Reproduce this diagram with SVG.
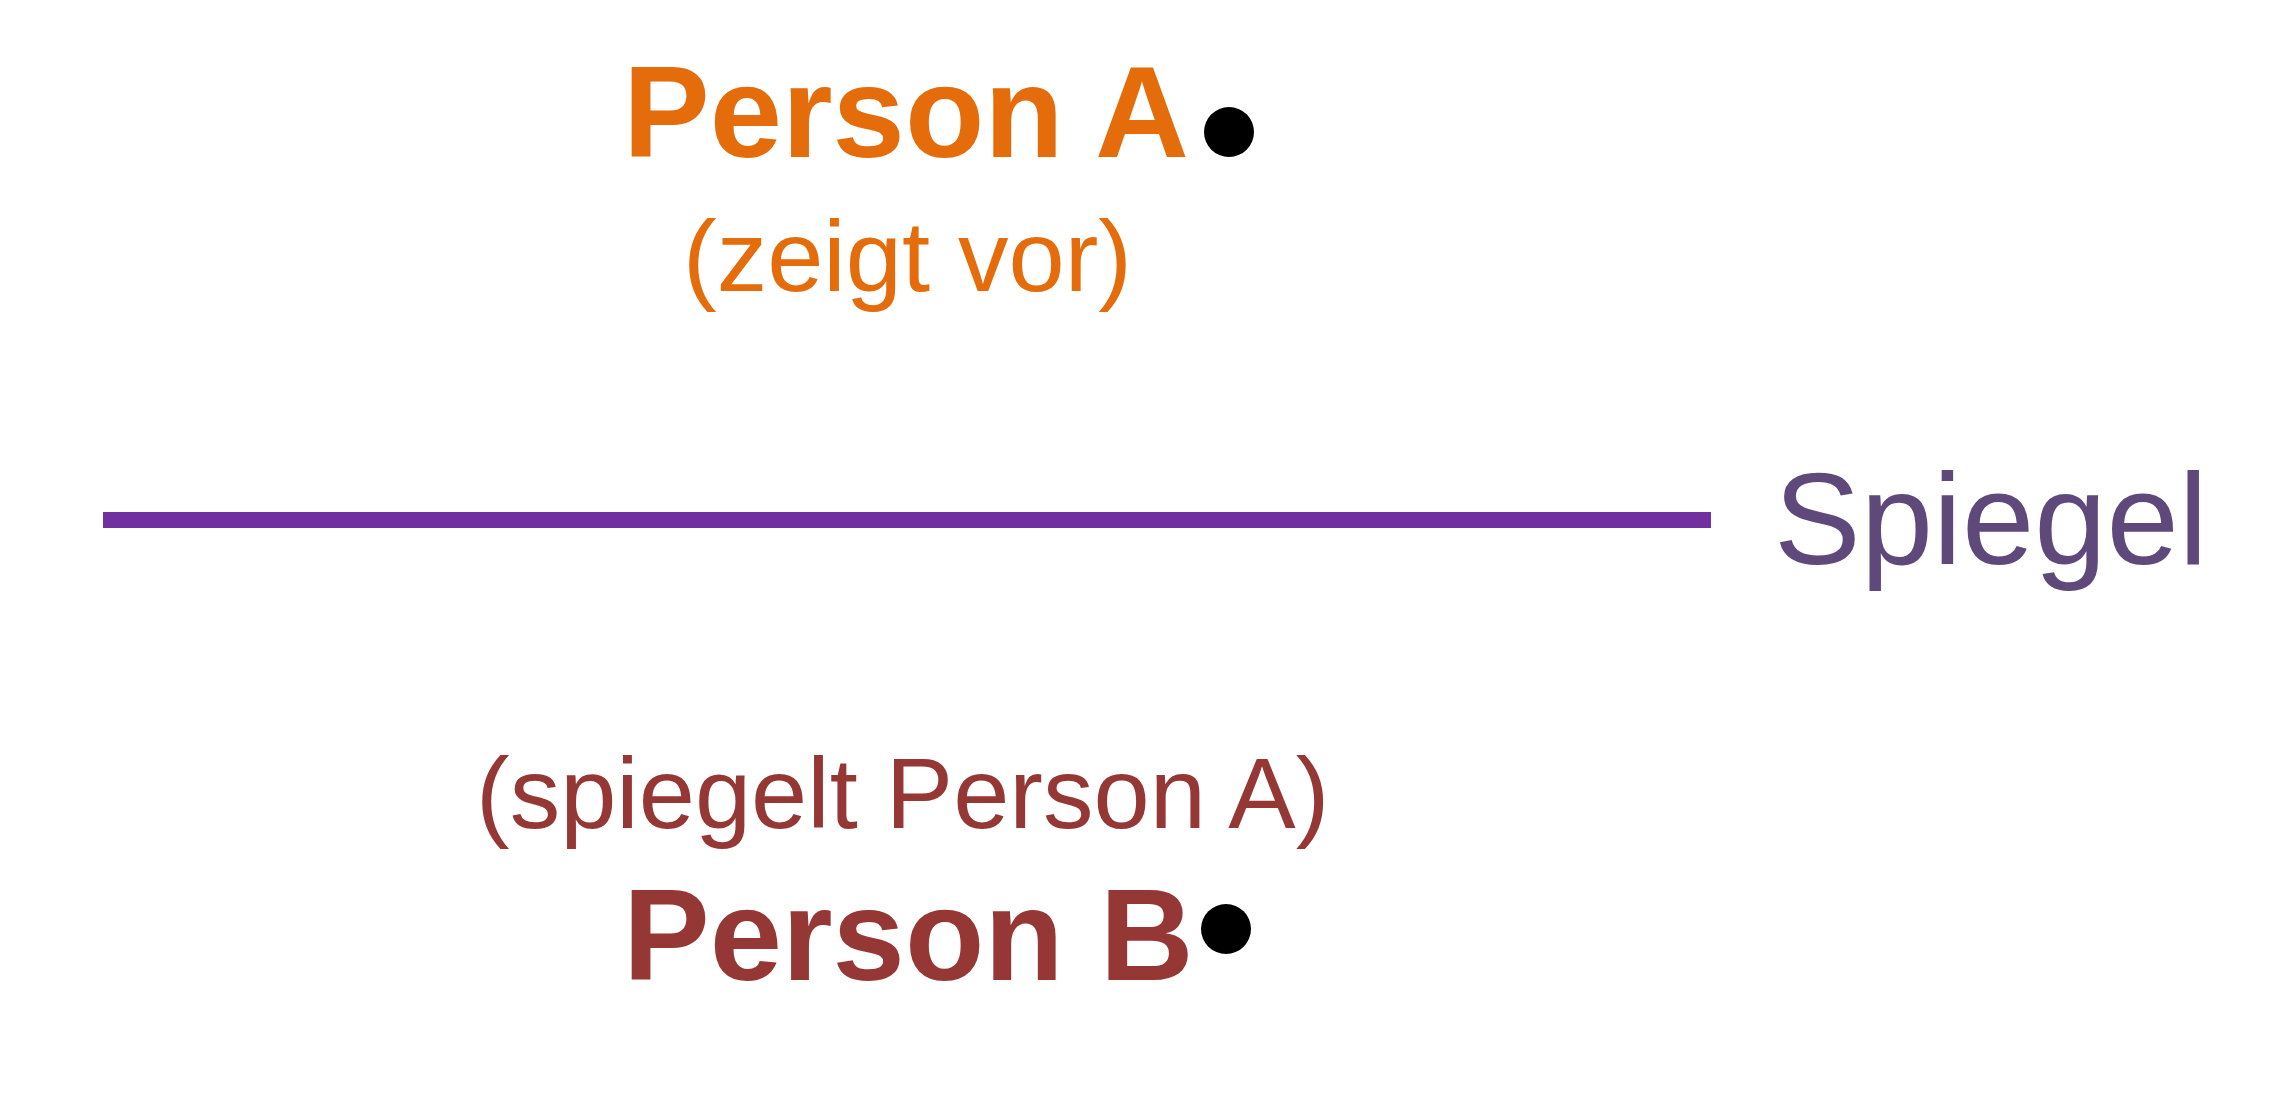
<svg xmlns="http://www.w3.org/2000/svg" width="2280" height="1099" viewBox="0 0 2280 1099">
<style>
text{font-family:"Liberation Sans",Arial,sans-serif}
.big{font-size:130px;font-weight:bold}
.sub{font-size:101px}
.a{fill:#E46C0A}
.b{fill:#953734}
.dot{fill:#000}
</style>
<rect width="2280" height="1099" fill="#fff"/>
<g id="connectors">
<line x1="103" y1="520" x2="1711" y2="520" stroke="#7030A0" stroke-width="16"/>
</g>
<g id="personA">
<text class="big a" x="623" y="157">Person A</text>
<text class="sub a" x="683" y="291">(zeigt vor)</text>
<circle class="dot" cx="1229" cy="132" r="25"/>
</g>
<g id="spiegel">
<text x="1774" y="564" font-size="130" fill="#5F497A">Spiegel</text>
</g>
<g id="personB">
<text class="sub b" x="476" y="828">(spiegelt Person A)</text>
<text class="big b" x="623" y="980">Person B</text>
<circle class="dot" cx="1226" cy="929" r="25"/>
</g>
</svg>
